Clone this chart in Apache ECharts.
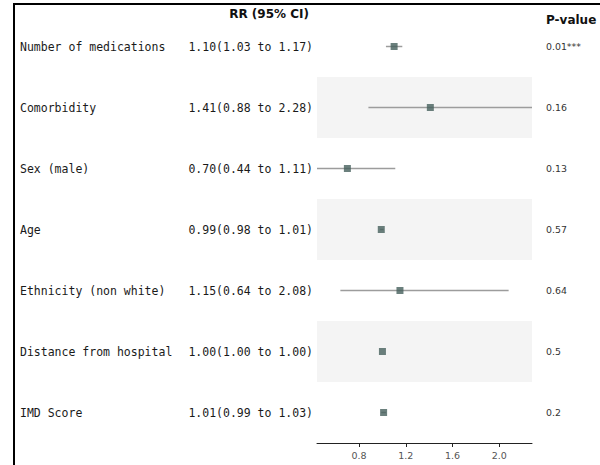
<!DOCTYPE html>
<html>
<head>
<meta charset="utf-8">
<script src="https://cdn.jsdelivr.net/npm/echarts@6/dist/echarts.min.js"></script>
<style>
html,body{margin:0;padding:0;background:#fff;}
#chart{width:600px;height:465px;}
</style>
</head>
<body>
<div id="chart"></div>
<script>
// ---- data ----
var variables = ['Number of medications','Comorbidity','Sex (male)','Age','Ethnicity (non white)','Distance from hospital','IMD Score'];
var rrValues = [1.10, 1.41, 0.70, 0.99, 1.15, 1.00, 1.01];
var ciLower = [1.03, 0.88, 0.44, 0.98, 0.64, 1.00, 0.99];
var ciUpper = [1.17, 2.28, 1.11, 1.01, 2.08, 1.00, 1.03];
var pValues = ['0.01***', '0.16', '0.13', '0.57', '0.64', '0.5', '0.2'];
var xTicks = [0.8, 1.2, 1.6, 2.0];
var shadedRows = [1, 3, 5];
var xMin = 0.44, xMax = 2.28;

var rrText = rrValues.map(function (v, i) {
  return v.toFixed(2) + '(' + ciLower[i].toFixed(2) + ' to ' + ciUpper[i].toFixed(2) + ')';
});

var chart = echarts.init(document.getElementById('chart'), null, {renderer: 'svg'});

var mono = 'DejaVu Sans Mono';
var sans = 'DejaVu Sans';

var option = {
  animation: false,
  backgroundColor: '#ffffff',
  grid: {left: 317, right: 68, top: 16, bottom: 22},
  xAxis: {
    type: 'value',
    min: xMin,
    max: xMax,
    splitLine: {show: false},
    axisLine: {show: true, lineStyle: {color: '#222', width: 1}},
    axisTick: {show: true, length: 4, lineStyle: {color: '#222'}, customValues: xTicks},
    axisLabel: {
      customValues: xTicks,
      margin: 7,
      fontFamily: sans,
      fontSize: 9.5,
      color: '#555',
      formatter: function (v) { return Number(v).toFixed(1); }
    }
  },
  yAxis: [
    {
      type: 'category', inverse: true, data: variables, position: 'left',
      axisLine: {show: false}, axisTick: {show: false}, splitLine: {show: false},
      axisLabel: {align: 'left', margin: 297, fontFamily: mono, fontSize: 11.5, color: '#1a1a1a'}
    },
    {
      type: 'category', inverse: true, data: rrText, position: 'left',
      axisLine: {show: false}, axisTick: {show: false}, splitLine: {show: false},
      axisLabel: {align: 'right', margin: 4, fontFamily: mono, fontSize: 11.5, color: '#1a1a1a'}
    },
    {
      type: 'category', inverse: true, data: pValues, position: 'right',
      axisLine: {show: false}, axisTick: {show: false}, splitLine: {show: false},
      axisLabel: {align: 'left', margin: 14, fontFamily: sans, fontSize: 9.4, color: '#333'}
    }
  ],
  graphic: [
    {type: 'line', shape: {x1: 13, y1: 4, x2: 600, y2: 4}, style: {stroke: '#000', lineWidth: 2}, silent: true},
    {type: 'line', shape: {x1: 14, y1: 3, x2: 14, y2: 465}, style: {stroke: '#000', lineWidth: 2}, silent: true},
    {type: 'text', x: 309, y: 14, style: {text: 'RR (95% CI)', align: 'right', verticalAlign: 'middle', font: 'bold 12px "DejaVu Sans"', fill: '#111'}},
    {type: 'text', x: 546, y: 20, style: {text: 'P-value', align: 'left', verticalAlign: 'middle', font: 'bold 12px "DejaVu Sans"', fill: '#111'}}
  ],
  series: [
    {
      type: 'custom',
      z: 1,
      silent: true,
      data: shadedRows.map(function (r) { return [xMin, r]; }),
      encode: {x: 0, y: 1},
      renderItem: function (params, api) {
        var cs = params.coordSys;
        var c = api.coord([api.value(0), api.value(1)]);
        var h = api.size([0, 1])[1];
        return {
          type: 'rect',
          shape: {x: cs.x, y: c[1] - h / 2, width: cs.width, height: h},
          style: {fill: '#f4f4f4'}
        };
      }
    },
    {
      type: 'custom',
      z: 2,
      silent: true,
      data: variables.map(function (_, i) { return [ciLower[i], ciUpper[i], i]; }),
      encode: {x: [0, 1], y: 2},
      renderItem: function (params, api) {
        var a = api.coord([api.value(0), api.value(2)]);
        var b = api.coord([api.value(1), api.value(2)]);
        return {
          type: 'line',
          shape: {x1: a[0], y1: a[1], x2: b[0], y2: b[1]},
          style: {stroke: '#9c9c9c', lineWidth: 1.5}
        };
      }
    },
    {
      type: 'scatter',
      z: 3,
      symbol: 'rect',
      symbolSize: 7,
      itemStyle: {color: '#46605d'},
      data: rrValues.map(function (v, i) { return [v, i]; })
    }
  ]
};

chart.setOption(option);
</script>
</body>
</html>
